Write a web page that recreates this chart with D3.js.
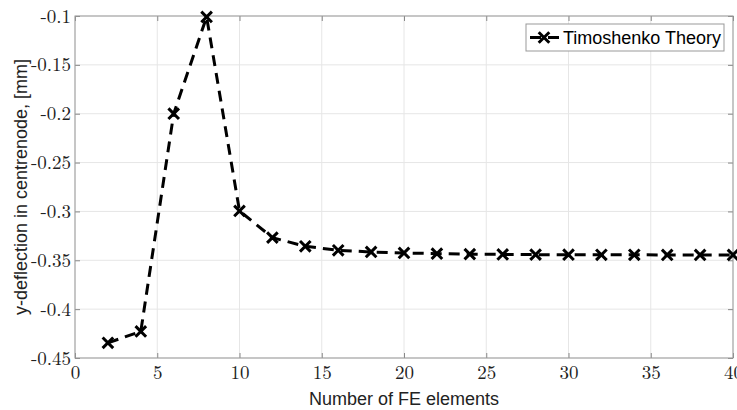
<!DOCTYPE html>
<html>
<head>
<meta charset="utf-8">
<script src="https://cdn.jsdelivr.net/npm/d3@7"></script>
<style>
  body { margin: 0; background: #fff; }
  svg { display: block; }
</style>
</head>
<body>
<div id="canvas"></div>
<script>
// Datos de la grafica
const elements = [2, 4, 6, 8, 10, 12, 14, 16, 18, 20, 22, 24, 26, 28, 30, 32, 34, 36, 38, 40];
const deflection = [-0.4345, -0.4228, -0.2, -0.101, -0.2995, -0.3268, -0.3357, -0.3398, -0.3415, -0.3425,
                    -0.3432, -0.3437, -0.344, -0.3442, -0.3443, -0.3444, -0.3444, -0.3445, -0.3445, -0.3445];
const xTicks = [0, 5, 10, 15, 20, 25, 30, 35, 40];
const yTicks = [-0.45, -0.4, -0.35, -0.3, -0.25, -0.2, -0.15, -0.1];
const seriesName = "Timoshenko Theory";

const width = 737;
const height = 410;
const margin = {top: 16, left: 75, bottom: 52, right: 4};
const iwidth = width - margin.left - margin.right;
const iheight = height - margin.top - margin.bottom;

const svg = d3.select("#canvas").append("svg")
    .attr("width", width)
    .attr("height", height);

const g = svg.append("g").attr("transform", `translate(${margin.left}, ${margin.top})`);

const x = d3.scaleLinear().domain([0, 40]).range([0, iwidth]);
const y = d3.scaleLinear().domain([-0.45, -0.1]).range([iheight, 0]);

// Rejilla
g.append("g").selectAll("line").data(xTicks).enter().append("line")
    .attr("x1", d => x(d)).attr("x2", d => x(d))
    .attr("y1", 0).attr("y2", iheight)
    .attr("stroke", "#e6e6e6").attr("stroke-width", 1);
g.append("g").selectAll("line").data(yTicks).enter().append("line")
    .attr("y1", d => y(d)).attr("y2", d => y(d))
    .attr("x1", 0).attr("x2", iwidth)
    .attr("stroke", "#e6e6e6").attr("stroke-width", 1);

const serif = "'Latin Modern Roman', 'CMU Serif', 'Liberation Serif', serif";
const sans = "'Liberation Sans', Arial, sans-serif";

// Ejes (ticks hacia dentro, en los cuatro lados)
const styleAxis = sel => {
    sel.select(".domain").remove();
    sel.selectAll(".tick line").attr("stroke", "#888").attr("stroke-width", 1);
    sel.selectAll(".tick text").attr("fill", "#222").style("font-family", serif).style("font-size", "19px");
};

g.append("g")
    .attr("transform", `translate(0, ${iheight})`)
    .call(d3.axisBottom(x).tickValues(xTicks).tickSize(-5).tickPadding(8).tickFormat(d3.format("d")))
    .call(styleAxis);
g.append("g")
    .call(d3.axisLeft(y).tickValues(yTicks).tickSize(-5).tickPadding(4).tickFormat(d => String(d).replace("−", "-")))
    .call(styleAxis);
g.append("g")
    .call(d3.axisTop(x).tickValues(xTicks).tickSize(-5).tickFormat(""))
    .call(styleAxis);
g.append("g")
    .attr("transform", `translate(${iwidth}, 0)`)
    .call(d3.axisRight(y).tickValues(yTicks).tickSize(-5).tickFormat(""))
    .call(styleAxis);

// Caja
g.append("rect")
    .attr("x", 0).attr("y", 0)
    .attr("width", iwidth).attr("height", iheight)
    .attr("fill", "none").attr("stroke", "#999").attr("stroke-width", 1);

// Serie
const pts = elements.map((e, i) => ({x: e, y: deflection[i]}));
const line = d3.line().x(d => x(d.x)).y(d => y(d.y));

g.append("path")
    .datum(pts)
    .attr("d", line)
    .attr("fill", "none")
    .attr("stroke", "#000")
    .attr("stroke-width", 3)
    .attr("stroke-dasharray", "11,7");

const cross = d3.symbol().type(d3.symbolX).size(75);
g.append("g").selectAll("path").data(pts).enter().append("path")
    .attr("transform", d => `translate(${x(d.x)}, ${y(d.y)})`)
    .attr("d", cross)
    .attr("fill", "none")
    .attr("stroke", "#000")
    .attr("stroke-width", 3);

// Leyenda
const legend = svg.append("g").attr("transform", "translate(526, 24)");
legend.append("rect")
    .attr("width", 198).attr("height", 27)
    .attr("fill", "#fff").attr("stroke", "#999").attr("stroke-width", 1);
legend.append("line")
    .attr("x1", 4).attr("x2", 33).attr("y1", 13.5).attr("y2", 13.5)
    .attr("stroke", "#000").attr("stroke-width", 3)
    .attr("stroke-dasharray", "11,7");
legend.append("path")
    .attr("transform", "translate(18, 13.5)")
    .attr("d", cross)
    .attr("fill", "none").attr("stroke", "#000").attr("stroke-width", 3);
legend.append("text")
    .attr("x", 37).attr("y", 20)
    .style("font-family", sans).style("font-size", "18px")
    .attr("fill", "#000")
    .text(seriesName);

// Etiquetas de los ejes
svg.append("text")
    .attr("text-anchor", "middle")
    .attr("x", margin.left + iwidth / 2)
    .attr("y", 405)
    .style("font-family", sans).style("font-size", "18px")
    .attr("fill", "#222")
    .text("Number of FE elements");

svg.append("text")
    .attr("text-anchor", "middle")
    .attr("transform", `translate(27, ${margin.top + iheight / 2}) rotate(-90)`)
    .style("font-family", sans).style("font-size", "18px")
    .attr("fill", "#222")
    .text("y-deflection in centrenode, [mm]");
</script>
</body>
</html>
